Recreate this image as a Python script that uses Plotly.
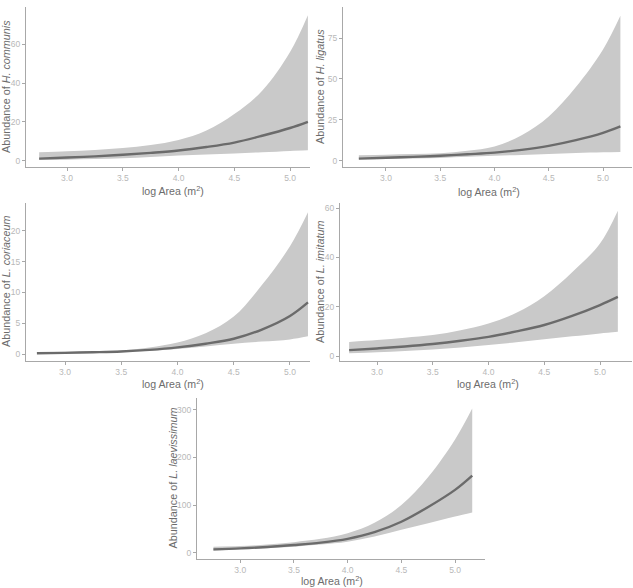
import plotly.graph_objects as go

# log area grid the curves were read at
log_area = [2.75, 3.0, 3.25, 3.5, 3.75, 4.0, 4.25, 4.5, 4.75, 5.0, 5.16]

# H. communis
hc_fit = [1.0, 1.6, 2.2, 3.0, 4.0, 5.2, 7.0, 9.3, 12.8, 16.8, 20.0]
hc_up = [4.3, 4.8, 5.5, 6.5, 8.0, 10.6, 15.5, 24.0, 36.0, 56.0, 75.0]
hc_lo = [0.3, 0.5, 0.8, 1.2, 1.8, 2.6, 3.1, 3.7, 4.3, 5.0, 5.3]

# H. ligatus
hl_fit = [1.2, 1.8, 2.3, 3.0, 3.9, 4.9, 6.6, 9.0, 12.5, 17.0, 21.0]
hl_up = [3.3, 3.6, 4.0, 4.5, 6.0, 8.6, 15.5, 27.0, 45.0, 68.0, 88.6]
hl_lo = [0.8, 1.0, 1.3, 1.6, 2.3, 3.0, 3.5, 4.0, 4.6, 5.1, 5.3]

# L. coriaceum
lc_fit = [0.15, 0.22, 0.32, 0.45, 0.7, 1.1, 1.7, 2.5, 4.0, 6.2, 8.4]
lc_up = [0.3, 0.38, 0.48, 0.6, 1.1, 1.9, 3.4, 6.1, 11.2, 17.5, 23.0]
lc_lo = [0.1, 0.15, 0.24, 0.35, 0.55, 0.85, 1.25, 1.7, 2.05, 2.4, 2.9]

# L. imitatum
li_fit = [2.4, 3.1, 3.9, 4.9, 6.2, 7.8, 10.0, 12.6, 16.3, 20.7, 24.0]
li_up = [5.7, 6.5, 7.4, 8.5, 10.5, 13.2, 17.6, 24.3, 34.0, 45.7, 59.0]
li_lo = [1.1, 1.6, 2.1, 2.7, 3.5, 4.5, 5.6, 6.8, 8.0, 9.2, 9.9]

# L. laevissimum
ll_fit = [7.0, 9.0, 12.0, 16.0, 21.0, 29.0, 43.0, 65.0, 96.0, 132.0, 162.0]
ll_up = [12.7, 14.0, 17.0, 22.0, 29.0, 41.0, 63.0, 100.0, 159.0, 238.0, 303.0]
ll_lo = [4.2, 7.0, 9.5, 12.7, 17.0, 23.0, 34.0, 48.0, 62.0, 76.0, 84.5]

panels = [
    ("H. communis", hc_fit, hc_up, hc_lo, [0, 20, 40, 60]),
    ("H. ligatus", hl_fit, hl_up, hl_lo, [0, 25, 50, 75]),
    ("L. coriaceum", lc_fit, lc_up, lc_lo, [0, 5, 10, 15, 20]),
    ("L. imitatum", li_fit, li_up, li_lo, [0, 20, 40, 60]),
    ("L. laevissimum", ll_fit, ll_up, ll_lo, [0, 100, 200, 300]),
]

W, H = 633, 588
# pixel boxes: x span, y span, x range, y range, y-title x, x-title (x, y)
boxes = [
    ((26, 310), (7, 167), [2.632, 5.179], [-3.3, 79.2], 6, (173, 190)),
    ((343, 632), (7, 167), [2.604, 5.267], [-3.9, 94.0], 320, (489, 191)),
    ((26, 310), (203, 361), [2.653, 5.178], [-1.1, 24.5], 6, (173, 384)),
    ((340, 632), (203, 361), [2.668, 5.287], [-2.0, 62.1], 320, (488, 383)),
    ((197, 485), (398, 559), [2.597, 5.279], [-13.3, 325.0], 172, (332, 580)),
]

axis_col = "#a8a8a8"
tick_col = "#b8b8b8"
title_col = "#6c6c6c"
font = "Liberation Sans, Arial, sans-serif"

fig = go.Figure()
layout = {}
notes = []
for i, ((name, fit, up, lo, yticks), (xd, yd, xr, yr, ytx, xt)) in enumerate(zip(panels, boxes)):
    n = "" if i == 0 else str(i + 1)
    xa, ya = "x" + n, "y" + n
    fig.add_trace(go.Scatter(x=log_area, y=lo, mode="lines", line=dict(width=0, shape="spline"),
                             xaxis=xa, yaxis=ya, showlegend=False, hoverinfo="skip"))
    fig.add_trace(go.Scatter(x=log_area, y=up, mode="lines", line=dict(width=0, shape="spline"),
                             fill="tonexty", fillcolor="#c9c9c9",
                             xaxis=xa, yaxis=ya, showlegend=False, hoverinfo="skip"))
    fig.add_trace(go.Scatter(x=log_area, y=fit, mode="lines",
                             line=dict(color="#6b6b6b", width=2.4, shape="spline"),
                             xaxis=xa, yaxis=ya, showlegend=False))
    layout["xaxis" + n] = dict(
        domain=[xd[0] / W, xd[1] / W], range=xr, anchor=ya,
        tickvals=[3.0, 3.5, 4.0, 4.5, 5.0], tickformat=".1f",
        showline=True, linecolor=axis_col, linewidth=1.2, showgrid=False, zeroline=False,
        ticks="outside", ticklen=3, tickcolor=axis_col,
        tickfont=dict(size=8.5, color=tick_col, family=font),
    )
    layout["yaxis" + n] = dict(
        domain=[1 - yd[1] / H, 1 - yd[0] / H], range=yr, anchor=xa,
        tickvals=yticks,
        showline=True, linecolor=axis_col, linewidth=1.2, showgrid=False, zeroline=False,
        ticks="outside", ticklen=3, tickcolor=axis_col,
        tickfont=dict(size=8.5, color=tick_col, family=font),
    )
    # axis titles as annotations so they sit where the reference has them
    notes.append(dict(text="Abundance of <i>" + name + "</i>", textangle=-90,
                      xref="paper", yref="paper", x=ytx / W, y=1 - (yd[0] + yd[1]) / 2 / H,
                      xanchor="center", yanchor="middle", showarrow=False,
                      font=dict(size=10.8, color=title_col, family=font)))
    notes.append(dict(text="log Area (m<sup>2</sup>)",
                      xref="paper", yref="paper", x=xt[0] / W, y=1 - xt[1] / H,
                      xanchor="center", yanchor="middle", showarrow=False,
                      font=dict(size=10.6, color=title_col, family=font)))

fig.update_layout(
    width=W, height=H,
    margin=dict(l=0, r=0, t=0, b=0),
    paper_bgcolor="white", plot_bgcolor="white",
    annotations=notes,
    **layout,
)
fig.write_html("out.html", config={"displayModeBar": False},
               post_script="document.body.style.margin='0';")
